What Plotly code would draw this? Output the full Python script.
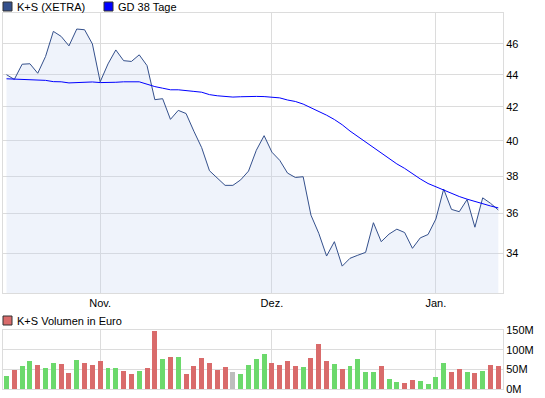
import numpy as np
import pandas as pd
import plotly.graph_objects as go

# ---------------- data ----------------
trading_days = [d.strftime("%Y-%m-%d") for d in pd.bdate_range("2011-10-14", "2012-01-12")
                if d.strftime("%Y-%m-%d") != "2011-12-26"]

close = [44.00, 43.70, 44.67, 44.70, 44.09, 45.17, 46.84, 46.50, 45.87, 47.00,
         46.95, 46.00, 43.55, 44.69, 45.60, 44.90, 44.85, 45.28, 44.58, 42.44,
         42.50, 41.25, 41.79, 41.60, 40.55, 39.60, 38.30, 37.89, 37.50, 37.50,
         37.80, 38.28, 39.45, 40.29, 39.34, 38.88, 38.17, 37.93, 37.97, 35.92,
         34.99, 33.86, 34.57, 33.37, 33.75, 33.90, 34.04, 35.53, 34.57, 34.95,
         35.20, 35.03, 34.24, 34.76, 34.93, 35.72, 37.30, 36.22, 36.10, 36.74,
         35.30, 36.83, 36.54, 36.19]
prior_close = 43.60

gd38 = [43.74, 43.72, 43.72, 43.70, 43.66, 43.64, 43.56, 43.55, 43.48, 43.50,
        43.55, 43.54, 43.50, 43.50, 43.52, 43.55, 43.55, 43.55, 43.40, 43.25,
        43.15, 43.05, 43.05, 42.98, 42.95, 42.90, 42.75, 42.68, 42.65, 42.60,
        42.62, 42.64, 42.64, 42.63, 42.60, 42.55, 42.42, 42.33, 42.17, 41.95,
        41.74, 41.50, 41.24, 40.93, 40.56, 40.24, 39.94, 39.65, 39.33, 38.98,
        38.68, 38.43, 38.13, 37.85, 37.60, 37.42, 37.25, 37.07, 36.90, 36.76,
        36.63, 36.52, 36.40, 36.30]

volume_m = [33, 48, 58, 71, 61, 53, 66, 64, 41, 74,
            66, 61, 71, 53, 53, 46, 38, 46, 53, 147,
            76, 81, 81, 38, 58, 79, 66, 48, 56, 43,
            38, 61, 76, 89, 66, 61, 71, 58, 56, 79,
            114, 71, 64, 51, 58, 76, 43, 43, 58, 25,
            18, 15, 23, 20, 13, 31, 66, 43, 51, 43,
            41, 46, 61, 58]

month_ticks = ["2011-11-01", "2011-12-01", "2012-01-02"]
month_labels = ["Nov.", "Dez.", "Jan."]
price_ticks = [34, 36, 38, 40, 42, 44, 46]
vol_ticks = [0, 50, 100, 150]
vol_tick_labels = ["0M", "50M", "100M", "150M"]

# ---------------- styles ----------------
W, H = 545, 398
ML, MR, MT, MB = 3, 42, 13, 9
PW, PH = W - ML - MR, H - MT - MB
FONT = "Liberation Sans, Arial, sans-serif"
PRICE_COLOR = "#34508c"
FILL_COLOR = "rgba(190,208,238,0.25)"
GD_COLOR = "#0000ff"
UP, DOWN, FLAT = "#6cd96c", "#d96b6b", "#bdbdbd"
GRID = "#dcdcdc"


def px_x(p):
    return (p - ML) / PW


def px_y(p):
    return (H - MB - p) / PH


prev = [prior_close] + close[:-1]
bar_colors = [UP if c > p else DOWN if c < p else FLAT for c, p in zip(close, prev)]

fig = go.Figure()
fig.add_trace(go.Scatter(x=trading_days, y=close, mode="lines",
                         line=dict(color=PRICE_COLOR, width=1),
                         fill="tozeroy", fillcolor=FILL_COLOR,
                         xaxis="x", yaxis="y", showlegend=False, hoverinfo="skip"))
fig.add_trace(go.Scatter(x=trading_days, y=gd38, mode="lines",
                         line=dict(color=GD_COLOR, width=1),
                         xaxis="x", yaxis="y", showlegend=False, hoverinfo="skip"))
fig.add_trace(go.Bar(x=trading_days, y=[v * 1e6 for v in volume_m],
                     marker=dict(color=bar_colors, line=dict(width=0)),
                     width=0.64, xaxis="x2", yaxis="y2", showlegend=False, hoverinfo="skip"))

xr = [-0.45, 63.6]
common_x = dict(type="category", range=xr, tickvals=month_ticks, showgrid=True,
                gridcolor=GRID, gridwidth=1, showline=True, linecolor=GRID, linewidth=1,
                mirror=True, ticks="", zeroline=False, fixedrange=True)

fig.update_layout(
    width=W, height=H,
    margin=dict(l=ML, r=MR, t=MT, b=MB, pad=0),
    paper_bgcolor="white", plot_bgcolor="white",
    font=dict(family=FONT, size=11, color="#000000"),
    bargap=0,
    xaxis=dict(common_x, anchor="y", ticktext=month_labels, showticklabels=True,
               tickfont=dict(size=11)),
    yaxis=dict(type="log", domain=[px_y(293), 1], side="right",
               range=[np.log10(32.1), np.log10(48.1)],
               tickvals=price_ticks, ticktext=[str(t) for t in price_ticks],
               showgrid=True, gridcolor=GRID, showline=True, linecolor=GRID, mirror=True,
               ticks="", zeroline=False, anchor="x", fixedrange=True),
    xaxis2=dict(common_x, anchor="y2", ticktext=month_labels, showticklabels=False),
    yaxis2=dict(domain=[0, px_y(330)], side="right", range=[0, 150e6],
                tickvals=[v * 1e6 for v in vol_ticks], ticktext=vol_tick_labels,
                ticklabeloverflow="allow",
                showgrid=True, gridcolor=GRID, showline=True, linecolor=GRID, mirror=True,
                ticks="", zeroline=False, anchor="x2", fixedrange=True),
)

# legend-like swatches and labels
legend_items = [
    (3, 2, PRICE_COLOR, 16, 7, "K+S (XETRA)"),
    (104, 2, GD_COLOR, 117, 7, "GD 38 Tage"),
    (3, 316, DOWN, 16, 321, "K+S Volumen in Euro"),
]
for sx, sy, col, tx, ty, label in legend_items:
    fig.add_shape(type="rect", xref="paper", yref="paper",
                  x0=px_x(sx), x1=px_x(sx + 9), y0=px_y(sy + 9), y1=px_y(sy),
                  line=dict(color="#333333", width=1), fillcolor=col)
    fig.add_annotation(xref="paper", yref="paper", x=px_x(tx), y=px_y(ty),
                       xanchor="left", yanchor="middle", showarrow=False,
                       text=label, font=dict(size=11, color="#000000"), borderpad=0)

fig.write_html("out.html", config={"displayModeBar": False, "staticPlot": True},
               post_script="document.body.style.margin='0px';document.body.style.overflow='hidden';")
